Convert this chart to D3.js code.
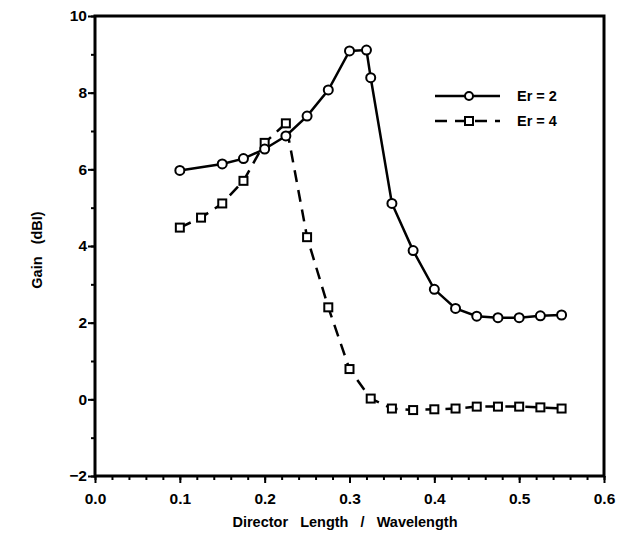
<!DOCTYPE html>
<html><head><meta charset="utf-8">
<script src="https://cdn.jsdelivr.net/npm/d3@7"></script>
<style>body{margin:0;background:#fff}svg{display:block}</style>
</head><body>
<svg id="c" width="618" height="542"></svg>
<script>
const er2X = [0.1,0.15,0.175,0.2,0.225,0.25,0.275,0.3,0.32,0.325,0.35,0.375,0.4,0.425,0.45,0.475,0.5,0.525,0.55];
const er2Y = [5.97,6.14,6.28,6.53,6.87,7.39,8.07,9.09,9.11,8.39,5.11,3.88,2.87,2.37,2.17,2.13,2.13,2.18,2.2];
const er4X = [0.1,0.125,0.15,0.175,0.2,0.225,0.25,0.275,0.3,0.325,0.35,0.375,0.4,0.425,0.45,0.475,0.5,0.525,0.55];
const er4Y = [4.48,4.74,5.11,5.7,6.69,7.2,4.23,2.4,0.79,0.02,-0.24,-0.28,-0.26,-0.24,-0.19,-0.19,-0.19,-0.21,-0.24];
const xTicks = [0,0.1,0.2,0.3,0.4,0.5,0.6];
const yTicks = [-2,0,2,4,6,8,10];
const seriesNames = ["Er = 2","Er = 4"];

const svg = d3.select("#c");
const L=95,R=604,T=16,B=476;
const x = d3.scaleLinear().domain([0,0.6]).range([L,R]);
const y = d3.scaleLinear().domain([-2,10]).range([B,T]);
const font = "'Liberation Sans', Arial, sans-serif";

// frame
svg.append("rect").attr("x",L).attr("y",T).attr("width",R-L).attr("height",B-T)
  .attr("fill","none").attr("stroke","#000").attr("stroke-width",3);

// x axis
const xMinor = d3.range(0,0.6001,0.02);
const xa = svg.append("g").attr("transform",`translate(0,${B})`);
xa.call(d3.axisBottom(x).tickValues(xMinor).tickSize(4).tickFormat(""));
xa.append("g").call(d3.axisBottom(x).tickValues(xTicks).tickSize(7).tickFormat(d3.format(".1f")));
xa.selectAll(".domain").remove();
xa.selectAll("line").attr("stroke","#000").attr("stroke-width",2);
xa.selectAll("text").attr("font-family",font).attr("font-weight","bold").attr("font-size",15.5).attr("fill","#000").attr("dy","1.15em");

// y axis
const yMinor = d3.range(-2,10.01,1);
const ya = svg.append("g").attr("transform",`translate(${L},0)`);
ya.call(d3.axisLeft(y).tickValues(yMinor).tickSize(4).tickFormat(""));
ya.append("g").call(d3.axisLeft(y).tickValues(yTicks).tickSize(7).tickFormat(d3.format("d")));
ya.selectAll(".domain").remove();
ya.selectAll("line").attr("stroke","#000").attr("stroke-width",2);
ya.selectAll("text").attr("font-family",font).attr("font-weight","bold").attr("font-size",15.5).attr("fill","#000").attr("x",-8);

// labels
svg.append("text").attr("x",345).attr("y",527).attr("text-anchor","middle")
  .attr("font-family",font).attr("font-weight","bold").attr("font-size",14.5).style("white-space","pre")
  .text("Director   Length   /   Wavelength");
svg.append("text").attr("transform","translate(42,250) rotate(-90)").attr("text-anchor","middle")
  .attr("font-family",font).attr("font-weight","bold").attr("font-size",14.5).style("white-space","pre")
  .text("Gain   (dBI)");

const line = d3.line().x(d=>x(d[0])).y(d=>y(d[1]));
const d2 = er2X.map((v,i)=>[v,er2Y[i]]);
const d4 = er4X.map((v,i)=>[v,er4Y[i]]);

svg.append("path").datum(d4).attr("d",line).attr("fill","none").attr("stroke","#000")
  .attr("stroke-width",2.5).attr("stroke-dasharray","12,8");
svg.append("path").datum(d2).attr("d",line).attr("fill","none").attr("stroke","#000")
  .attr("stroke-width",2.5);

svg.selectAll(".sq").data(d4).enter().append("rect")
  .attr("x",d=>x(d[0])-4).attr("y",d=>y(d[1])-4).attr("width",8).attr("height",8)
  .attr("fill","#fff").attr("stroke","#000").attr("stroke-width",2);
svg.selectAll(".ci").data(d2).enter().append("circle")
  .attr("cx",d=>x(d[0])).attr("cy",d=>y(d[1])).attr("r",4.5)
  .attr("fill","#fff").attr("stroke","#000").attr("stroke-width",2);

// legend
const lg = svg.append("g");
lg.append("line").attr("x1",435).attr("x2",500).attr("y1",96).attr("y2",96).attr("stroke","#000").attr("stroke-width",2.5);
lg.append("circle").attr("cx",469).attr("cy",96).attr("r",4).attr("fill","#fff").attr("stroke","#000").attr("stroke-width",2);
lg.append("line").attr("x1",435).attr("x2",500).attr("y1",121).attr("y2",121).attr("stroke","#000").attr("stroke-width",2.5).attr("stroke-dasharray","12,8");
lg.append("rect").attr("x",465).attr("y",117).attr("width",8).attr("height",8).attr("fill","#fff").attr("stroke","#000").attr("stroke-width",2);
lg.selectAll(".lt").data(seriesNames).enter().append("text")
  .attr("x",517).attr("y",(d,i)=>101+i*25).attr("font-family",font).attr("font-weight","bold").attr("font-size",14.5)
  .text(d=>d);
</script>
</body></html>
